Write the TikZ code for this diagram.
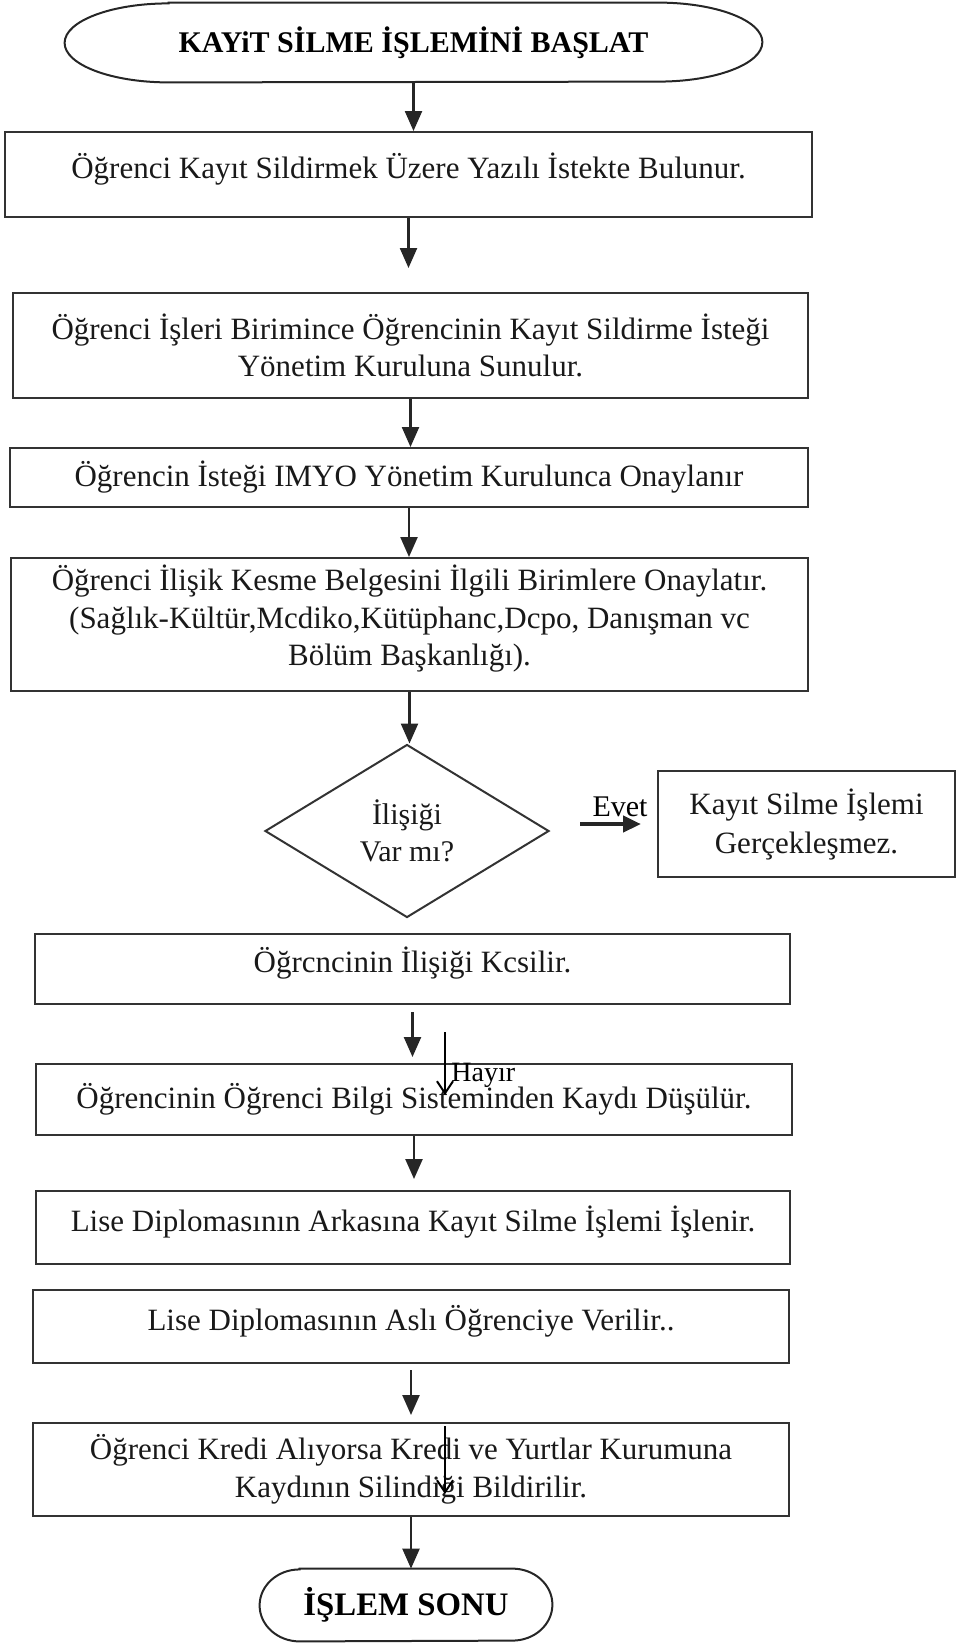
\documentclass[tikz,border=0pt]{standalone}
\usepackage{fontspec}
\setmainfont{Liberation Serif}
\usetikzlibrary{shapes.geometric,arrows.meta}

\begin{document}
\begin{tikzpicture}[x=0.5pt,y=-0.5pt,
kutu/.style={%
draw=black!80,
line width=1pt,
text=black!90,
align=center,
inner sep=0pt,
font=\fontsize{15.5}{18.8}\selectfont
},
yukari/.style={%
text depth=9pt
},
karar/.style={%
diamond,
draw=black!80,
line width=1pt,
aspect=1.64,
inner sep=0pt,
text=black!90,
align=center,
font=\fontsize{15}{18.5}\selectfont
},
uc/.style={%
inner sep=0pt,
text=black,
font=\bfseries\fontsize{15}{18}\selectfont
},
kenar/.style={%
draw=black!85,
line width=1pt
},
ok/.style={%
draw=black!85,
line width=1.2pt,
-{Triangle[length=10pt,width=8.5pt]}
},
kalin/.style={%
draw=black!85,
line width=2.2pt,
-{Triangle[length=9pt,width=8pt]}
},
ince/.style={%
draw=black,
line width=1pt,
-{Straight Barb[length=6pt,width=8pt]}
},
etiket/.style={%
inner sep=0pt,
font=\fontsize{15}{18}\selectfont
},
]
\useasboundingbox(0,0)rectangle(957,1644);
%% Baslangic
\node[uc,minimum width=348.5pt,minimum height=39.5pt](basla)at(413.5,42.5){\raisebox{-4.5pt}{KAYiT SİLME İŞLEMİNİ BAŞLAT}};
\draw[kenar]([xshift=52pt]basla.north west)--([xshift=-52pt]basla.north east)arc[start angle=90,end angle=-90,x radius=52pt,y radius=19.75pt]--([xshift=52pt]basla.south west)arc[start angle=270,end angle=90,x radius=52pt,y radius=19.75pt]--cycle;
%% Adimlar
\node[kutu,yukari,minimum width=403.5pt,minimum height=42.5pt](adim1)at(408.5,174.5){Öğrenci Kayıt Sildirmek Üzere Yazılı İstekte Bulunur.};
\node[kutu,minimum width=397.5pt,minimum height=52.5pt](adim2)at(410.5,345.5){Öğrenci İşleri Birimince Öğrencinin Kayıt Sildirme İsteği\\Yönetim Kuruluna Sunulur.};
\node[kutu,minimum width=399pt,minimum height=29.5pt](adim3)at(409,477.5){Öğrencin İsteği IMYO Yönetim Kurulunca Onaylanır};
\node[kutu,yukari,minimum width=398.5pt,minimum height=66.5pt](adim4)at(409.5,624.5){Öğrenci İlişik Kesme Belgesini İlgili Birimlere Onaylatır.\\(Sağlık-Kültür,Mcdiko,Kütüphanc,Dcpo, Danışman vc\\Bölüm Başkanlığı).};
%% Karar
\node[karar,minimum width=142pt,minimum height=86.5pt](karar)at(407,831){İlişiği\\Var mı?};
\node[kutu,minimum width=148.5pt,minimum height=53pt,font=\fontsize{15.5}{19.5}\selectfont](evetkutu)at(806.5,824){Kayıt Silme İşlemi\\Gerçekleşmez.};
\node[etiket](evet)at(620,807){Evet};
%% Alt adimlar
\node[kutu,yukari,minimum width=377.5pt,minimum height=35pt](adim5)at(412.5,969){Öğrcncinin İlişiği Kcsilir.};
\node[kutu,minimum width=378pt,minimum height=35.5pt](adim6)at(414,1099.5){Öğrencinin Öğrenci Bilgi Sisteminden Kaydı Düşülür.};
\node[kutu,yukari,minimum width=377pt,minimum height=36.5pt](adim7)at(413,1227.5){Lise Diplomasının Arkasına Kayıt Silme İşlemi İşlenir.};
\node[kutu,yukari,minimum width=378pt,minimum height=36.5pt](adim8)at(411,1326.5){Lise Diplomasının Aslı Öğrenciye Verilir..};
\node[kutu,minimum width=378pt,minimum height=46.5pt](adim9)at(411,1469.5){Öğrenci Kredi Alıyorsa Kredi ve Yurtlar Kurumuna\\Kaydının Silindiği Bildirilir.};
%% Son
\node[uc,minimum width=146pt,minimum height=36pt,font=\bfseries\fontsize{16.4}{19}\selectfont](son)at(406,1605){İŞLEM SONU};
\draw[kenar]([xshift=20pt]son.north west)--([xshift=-20pt]son.north east)arc[start angle=90,end angle=-90,x radius=20pt,y radius=18pt]--([xshift=20pt]son.south west)arc[start angle=270,end angle=90,x radius=20pt,y radius=18pt]--cycle;
%% Oklar
\draw[ok](basla)--(basla|-adim1.north);
\draw[ok,shorten >=12pt](adim1)--(adim1|-adim2.north);
\draw[ok](adim2)--(adim2|-adim3.north);
\draw[ok](adim3)--(adim3|-adim4.north);
\draw[ok](adim4)--(adim4|-karar.north);
\draw[kalin,shorten <=15pt,shorten >=8pt](evetkutu.west-|karar.east)--(evetkutu.west);
\draw[ok,shorten <=3.5pt,shorten >=3pt](adim5)--(adim5|-adim6.north);
\draw[ok,shorten >=5.5pt](adim6)--(adim6|-adim7.north);
\draw[ok,shorten <=3pt,shorten >=3.5pt](adim8)--(adim8|-adim9.north);
\draw[ok](adim9)--(adim9|-son.north);
%% Hayir
\coordinate(h1)at(445,1032);
\coordinate(h2)at(445,1095);
\draw[ince](h1)--(h2);
\node[etiket,anchor=west,font=\fontsize{14}{16}\selectfont](hayir)at(451,1075){Hayır};
\coordinate(k1)at(445,1426);
\coordinate(k2)at(445,1494);
\draw[ince](k1)--(k2);
\end{tikzpicture}
\end{document}
